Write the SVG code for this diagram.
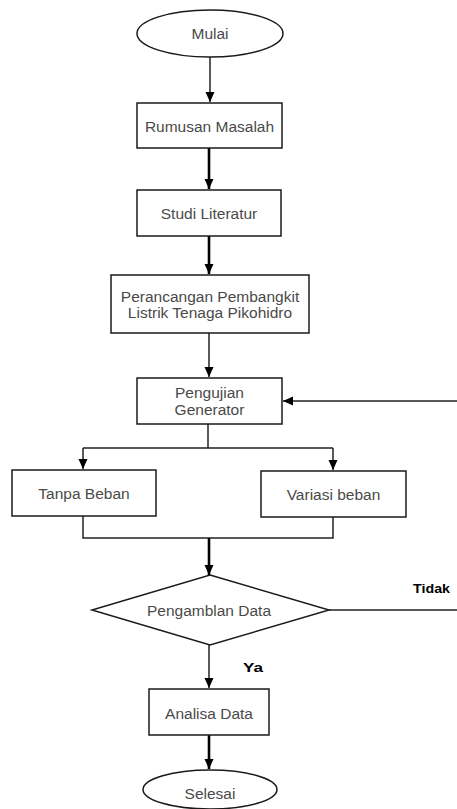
<svg xmlns="http://www.w3.org/2000/svg" width="457" height="809" viewBox="0 0 457 809">
<defs>
<marker id="ah" markerUnits="userSpaceOnUse" markerWidth="10" markerHeight="10" viewBox="0 0 10 10" refX="10" refY="5" orient="auto">
<path d="M0,0.5 L10,5 L0,9.5 Z" fill="#000"/>
</marker>
<style>
.box{fill:#fff;stroke:#1a1a1a;stroke-width:1.5}
.t{font-family:"Liberation Sans",Arial,sans-serif;font-size:15.5px;fill:#4a4a4a;text-anchor:middle}
.lbl{font-family:"Liberation Sans",Arial,sans-serif;font-size:13px;font-weight:bold;fill:#000;text-anchor:middle}
.thin{fill:none;stroke:#222;stroke-width:1.5}
.thick{fill:none;stroke:#000;stroke-width:2.6}
</style>
</defs>
<rect width="457" height="809" fill="#fff"/>
<g id="connectors">
<path class="thin" d="M210,57 V102" marker-end="url(#ah)"/>
<path class="thick" d="M209,148 V189" marker-end="url(#ah)"/>
<path class="thick" d="M209,236 V274" marker-end="url(#ah)"/>
<path class="thin" d="M209,333 V377" marker-end="url(#ah)"/>
<path class="thin" d="M208,424 V448 M83,448 H333"/>
<path class="thin" d="M83,448 V469" marker-end="url(#ah)"/>
<path class="thin" d="M333,448 V470" marker-end="url(#ah)"/>
<path class="thin" d="M83,516 V538 H333 V517"/>
<path class="thick" d="M209,538 V575" marker-end="url(#ah)"/>
<path class="thin" d="M209,645 V688" marker-end="url(#ah)"/>
<path class="thick" d="M209,735 V769" marker-end="url(#ah)"/>
<path class="thin" d="M329,610 H457"/>
<path class="thin" d="M457,401 H283" marker-end="url(#ah)"/>
<text class="lbl" x="431.5" y="593" textLength="37" lengthAdjust="spacingAndGlyphs">Tidak</text>
<text class="lbl" x="253" y="672" textLength="20" lengthAdjust="spacingAndGlyphs">Ya</text>
</g>
<g id="mulai">
<ellipse class="box" cx="210" cy="33.5" rx="73" ry="23.5"/>
<text class="t" x="210" y="39">Mulai</text>
</g>
<g id="rumusan">
<rect class="box" x="137" y="103" width="145" height="45"/>
<text class="t" x="209.5" y="132">Rumusan Masalah</text>
</g>
<g id="studi">
<rect class="box" x="137" y="190" width="144" height="46"/>
<text class="t" x="209" y="219">Studi Literatur</text>
</g>
<g id="perancangan">
<rect class="box" x="111" y="275" width="198" height="58"/>
<text class="t" x="210" y="302">Perancangan Pembangkit</text>
<text class="t" x="210" y="318">Listrik Tenaga Pikohidro</text>
</g>
<g id="pengujian">
<rect class="box" x="137" y="378" width="145" height="46"/>
<text class="t" x="209.5" y="398">Pengujian</text>
<text class="t" x="209.5" y="415">Generator</text>
</g>
<g id="tanpa">
<rect class="box" x="12" y="470" width="144" height="46"/>
<text class="t" x="84" y="499">Tanpa Beban</text>
</g>
<g id="variasi">
<rect class="box" x="261" y="471" width="145" height="46"/>
<text class="t" x="333.5" y="500">Variasi beban</text>
</g>
<g id="pengambilan">
<polygon class="box" points="210,575 329,610 210,645 92,610"/>
<text class="t" x="209" y="616">Pengamblan Data</text>
</g>
<g id="analisa">
<rect class="box" x="149" y="689" width="120" height="46"/>
<text class="t" x="209" y="719">Analisa Data</text>
</g>
<g id="selesai">
<ellipse class="box" cx="210" cy="789.5" rx="67" ry="19.5"/>
<text class="t" x="210" y="799">Selesai</text>
</g>
</svg>
